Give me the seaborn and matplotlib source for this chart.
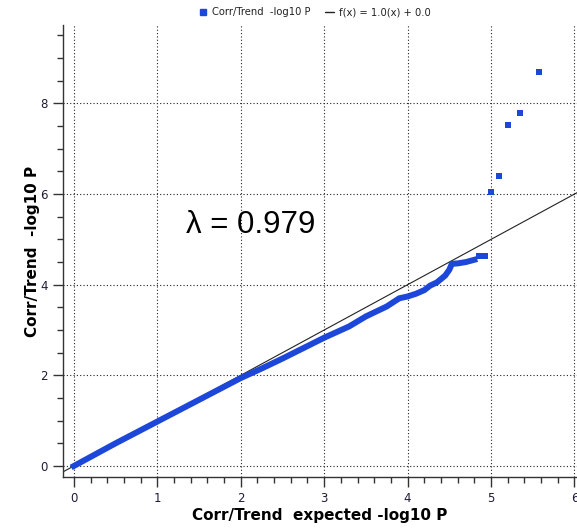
import matplotlib
matplotlib.use("Agg")
import matplotlib.pyplot as plt
from matplotlib.ticker import MultipleLocator
from matplotlib.lines import Line2D
import seaborn as sns
import pandas as pd

# ---- data ----
dense_expected = [0.0, 0.25, 0.5, 0.75, 1.0, 1.25, 1.5, 1.75, 2.0, 2.25, 2.5, 2.75, 3.0, 3.3,
                  3.5, 3.75, 3.9, 4.0, 4.1, 4.2, 4.27, 4.35, 4.45, 4.50, 4.53, 4.6, 4.7, 4.8]
dense_observed = [0.0, 0.25, 0.50, 0.74, 0.98, 1.22, 1.46, 1.70, 1.94, 2.15, 2.37, 2.60, 2.83, 3.08,
                  3.30, 3.52, 3.70, 3.74, 3.80, 3.88, 3.98, 4.05, 4.20, 4.33, 4.46, 4.47, 4.50, 4.55]
tail_expected = [4.86, 4.93, 5.00, 5.09, 5.20, 5.35, 5.57]
tail_observed = [4.64, 4.64, 6.05, 6.40, 7.52, 7.79, 8.70]
ref_x = [-0.15, 6.05]
lambda_text = "λ = 0.979"
series_label = "Corr/Trend  -log10 P"
line_label = "f(x) = 1.0(x) + 0.0"
x_label = "Corr/Trend  expected -log10 P"
y_label = "Corr/Trend  -log10 P"

BLUE = "#1c47d8"
TICKC = "#1c1c3a"

sns.set_style("ticks")
plt.rcParams['font.family'] = ['DejaVu Sans']

fig = plt.figure(figsize=(5.77, 5.31), dpi=100)
ax = fig.add_axes([63 / 577, 54 / 531, 514 / 577, 452 / 531])

dense = pd.DataFrame({"e": dense_expected, "o": dense_observed})
tail = pd.DataFrame({"e": tail_expected, "o": tail_observed})
ref = pd.DataFrame({"x": ref_x, "y": ref_x})

# reference line
sns.lineplot(data=ref, x="x", y="y", ax=ax, color="#222222", lw=0.8, zorder=2)
# dense band of points
sns.lineplot(data=dense, x="e", y="o", ax=ax, color=BLUE, lw=4.3, zorder=3,
             solid_capstyle="projecting", solid_joinstyle="miter", sort=False)
# sparse tail points
sns.scatterplot(data=tail, x="e", y="o", ax=ax, color=BLUE, marker="s", s=16,
                linewidth=0, zorder=4)

ax.set_xlim(-0.13, 6.03)
ax.set_ylim(-0.243, 9.73)

ax.xaxis.set_major_locator(MultipleLocator(1))
ax.xaxis.set_minor_locator(MultipleLocator(0.2))
ax.yaxis.set_major_locator(MultipleLocator(2))
ax.yaxis.set_minor_locator(MultipleLocator(0.5))

ax.grid(True, which="major", linestyle=(0, (1, 2)), color="#222222", lw=0.8)
ax.set_axisbelow(True)

for s in ["top", "right"]:
    ax.spines[s].set_visible(False)
for s in ["left", "bottom"]:
    ax.spines[s].set_color("#333333")
    ax.spines[s].set_linewidth(1.0)

ax.tick_params(axis="both", which="major", length=7, width=1, color="#333333",
               labelsize=8.5, labelcolor=TICKC, pad=4)
ax.tick_params(axis="both", which="minor", length=4, width=1, color="#333333")

ax.set_xlabel(x_label, fontsize=11, fontweight="bold", color="black", labelpad=2)
ax.set_ylabel(y_label, fontsize=11, fontweight="bold", color="black", labelpad=0)

ax.text(1.35, 5.32, lambda_text, fontsize=22.5, family=["Liberation Sans", "DejaVu Sans"],
        va="center", ha="left", color="black")

handles = [
    Line2D([], [], color=BLUE, marker="s", linestyle="none", markersize=5),
    Line2D([], [], color="#222222", lw=1.0),
]
fig.legend(handles, [series_label, line_label], loc="center", bbox_to_anchor=(0.545, 0.977),
           ncol=2, frameon=False, fontsize=7.2, handlelength=0.9, handletextpad=0.5,
           columnspacing=1.4, labelcolor="#222222")

fig.savefig("out.png", dpi=100)
